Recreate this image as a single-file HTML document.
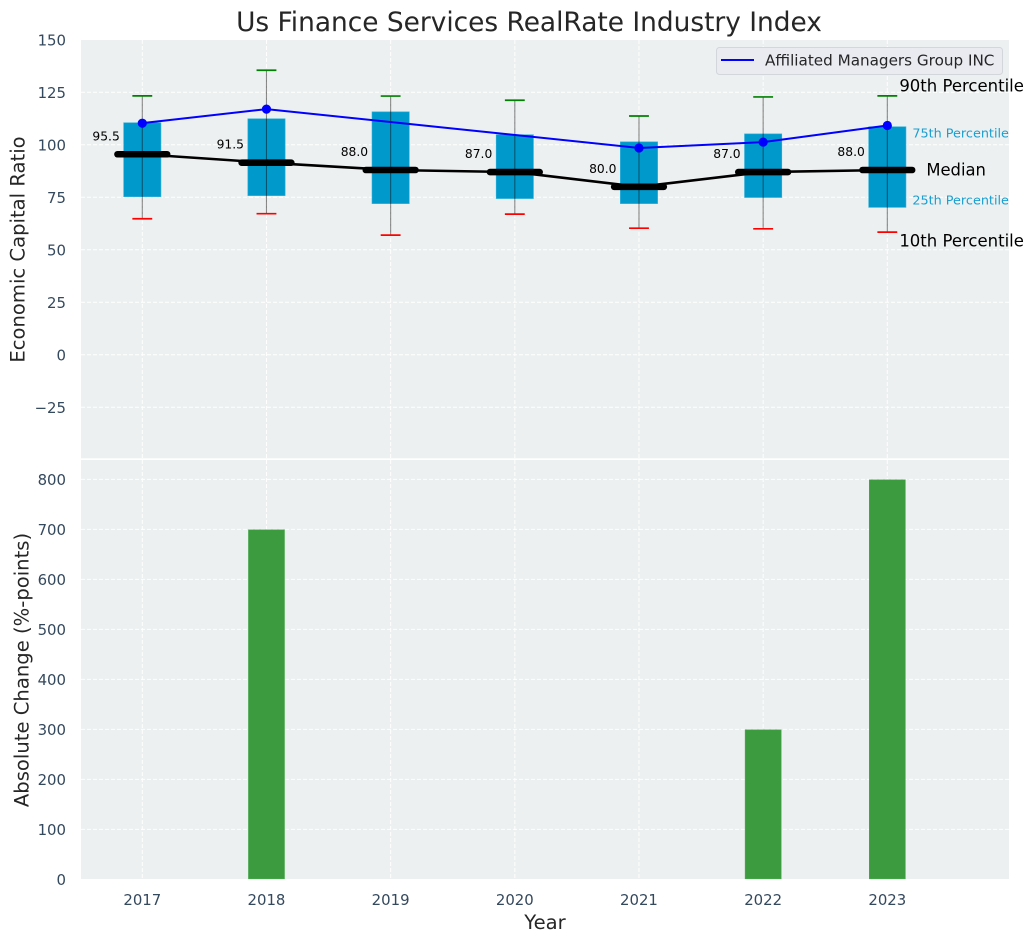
<!DOCTYPE html>
<html>
<head>
<meta charset="utf-8">
<title>Us Finance Services RealRate Industry Index</title>
<style>
html,body{margin:0;padding:0;background:#fff;}
svg{display:block;font-family:"DejaVu Sans","Liberation Sans",sans-serif;}
</style>
</head>
<body>
<svg id="chart" width="1034" height="942" viewBox="0 0 1034 942" xmlns="http://www.w3.org/2000/svg">
  <rect x="81" y="40" width="928" height="418.3" fill="#ecf0f1"/>
  <rect x="81" y="460" width="928" height="419" fill="#ecf0f1"/>
  <g id="grid"></g>
  <g id="marks"></g>
  <g id="ticks"></g>
  <text x="529" y="31" text-anchor="middle" font-size="26.4" fill="#262626">Us Finance Services RealRate Industry Index</text>
  <text transform="translate(24.5,249.5) rotate(-90)" text-anchor="middle" font-size="19.6" fill="#262626">Economic Capital Ratio</text>
  <text transform="translate(28.5,670) rotate(-90)" text-anchor="middle" font-size="19.6" fill="#262626">Absolute Change (%-points)</text>
  <text x="545" y="929" text-anchor="middle" font-size="19.6" fill="#262626">Year</text>
  <g>
    <rect x="716.5" y="47.5" width="286" height="27" rx="3" fill="#e9ebf1" stroke="#d3d6da" stroke-width="1"/>
    <line x1="721" y1="60" x2="754" y2="60" stroke="#0000ff" stroke-width="2"/>
    <text x="765" y="65.5" font-size="15.2" fill="#262626">Affiliated Managers Group INC</text>
  </g>
  <g id="annotations"></g>
</svg>
<script>
var years = [2017, 2018, 2019, 2020, 2021, 2022, 2023];
var p90 = [123.3, 135.5, 123.2, 121.2, 113.7, 122.8, 123.3];
var q3 = [110.5, 112.4, 115.7, 104.8, 101.4, 105.2, 108.6];
var medians = [95.5, 91.5, 88.0, 87.0, 80.0, 87.0, 88.0];
var q1 = [75.3, 75.8, 72.0, 74.4, 72.0, 74.9, 70.2];
var p10 = [64.8, 67.2, 57.0, 67.0, 60.3, 60.0, 58.4];
var company = [110.3, 117.0, null, null, 98.5, 101.3, 109.2];
var changes = [0, 700, 0, 0, 0, 300, 800];
var upperTicks = [150, 125, 100, 75, 50, 25, 0, -25];
var lowerTicks = [800, 700, 600, 500, 400, 300, 200, 100, 0];

var NS = 'http://www.w3.org/2000/svg';
function xPos(v) { return 142.3 + (v - 2017) * 124.17; }
function yUpper(v) { return 354.8 - v * 2.1; }
function yLower(v) { return 879.4 - v * 0.5; }
function xWidth(d) { return d * 124.17; }

function make(tag, parent, attrs, text) {
  var el = document.createElementNS(NS, tag);
  for (var k in attrs) { el.setAttribute(k, attrs[k]); }
  if (text !== undefined) { el.textContent = text; }
  parent.appendChild(el);
  return el;
}

var grid = document.getElementById('grid');
var marks = document.getElementById('marks');
var ticks = document.getElementById('ticks');
var notes = document.getElementById('annotations');
var el;

/* grid */
upperTicks.forEach(function (t) {
  if (t === 150) { return; }
  el = make('line', grid, {x1: 81, x2: 1009, y1: yUpper(t), y2: yUpper(t), stroke: '#ffffff', 'stroke-width': 1, 'stroke-dasharray': '4 2', opacity: 0.95});
  
  
});
lowerTicks.forEach(function (t) {
  if (t === 0) { return; }
  el = make('line', grid, {x1: 81, x2: 1009, y1: yLower(t), y2: yLower(t), stroke: '#ffffff', 'stroke-width': 1, 'stroke-dasharray': '4 2', opacity: 0.95});
  
  
});
years.forEach(function (y) {
  el = make('line', grid, {x1: xPos(y), x2: xPos(y), y1: 40, y2: 458, stroke: '#ffffff', 'stroke-width': 1, 'stroke-dasharray': '4 2', opacity: 0.95});
  
  
  el = make('line', grid, {x1: xPos(y), x2: xPos(y), y1: 460, y2: 879, stroke: '#ffffff', 'stroke-width': 1, 'stroke-dasharray': '4 2', opacity: 0.95});
  
  
});

/* lower bars */
years.forEach(function (y, i) {
  if (!changes[i]) { return; }
  el = make('rect', marks, {x: xPos(y) - xWidth(0.145), y: yLower(changes[i]) + 0.4, width: xWidth(0.29), height: yLower(0) - yLower(changes[i]) - 1, fill: '#3b9b3e', stroke: '#4aa84d', 'stroke-width': 0.6});
  
  
});

/* boxes */
years.forEach(function (y, i) {
  el = make('rect', marks, {x: xPos(y) - xWidth(0.15), y: yUpper(q3[i]), width: xWidth(0.3), height: yUpper(q1[i]) - yUpper(q3[i]), fill: '#0099cc', stroke: '#2fb0da', 'stroke-width': 0.6});
  
  
});

/* whiskers */
years.forEach(function (y, i) {
  el = make('line', marks, {x1: xPos(y), x2: xPos(y), y1: yUpper(p90[i]), y2: yUpper(p10[i]), stroke: '#000000', 'stroke-width': 1.1, opacity: 0.45});
  
  
  el = make('line', marks, {x1: xPos(y) - xWidth(0.08), x2: xPos(y) + xWidth(0.08), y1: yUpper(p90[i]), y2: yUpper(p90[i]), stroke: '#008000', 'stroke-width': 1.7});
  
  
  el = make('line', marks, {x1: xPos(y) - xWidth(0.08), x2: xPos(y) + xWidth(0.08), y1: yUpper(p10[i]), y2: yUpper(p10[i]), stroke: '#ff0000', 'stroke-width': 1.7});
  
  
});

/* median line */
var medianPts = years.map(function (y, i) { return xPos(y) + ',' + yUpper(medians[i]); }).join(' ');
el = make('polyline', marks, {points: medianPts, fill: 'none', stroke: '#000000', 'stroke-width': 2.6});


years.forEach(function (y, i) {
  el = make('line', marks, {x1: xPos(y) - xWidth(0.2), x2: xPos(y) + xWidth(0.2), y1: yUpper(medians[i]), y2: yUpper(medians[i]), stroke: '#000000', 'stroke-width': 6.6, 'stroke-linecap': 'round'});
  
  
  el = make('text', marks, {x: xPos(y) - 22.5, y: yUpper(medians[i]) - 14, 'text-anchor': 'end', 'font-size': 12.3, fill: '#000000'}, medians[i].toFixed(1));
  
  
});

/* company line */
var companyPts = [];
years.forEach(function (y, i) {
  if (company[i] !== null) { companyPts.push(xPos(y) + ',' + yUpper(company[i])); }
});
el = make('polyline', marks, {points: companyPts.join(' '), fill: 'none', stroke: '#0000ff', 'stroke-width': 2});


years.forEach(function (y, i) {
  if (company[i] === null) { return; }
  el = make('circle', marks, {cx: xPos(y), cy: yUpper(company[i]), r: 4.6, fill: '#0000ff'});
  
  
});

/* tick labels */
upperTicks.forEach(function (t) {
  el = make('text', ticks, {x: 66, y: yUpper(t) + 5.5, 'text-anchor': 'end', 'font-size': 14.9, fill: '#34495e'}, t < 0 ? '\u2212' + Math.abs(t) : String(t));
  
  
});
lowerTicks.forEach(function (t) {
  el = make('text', ticks, {x: 66, y: yLower(t) + 5.5, 'text-anchor': 'end', 'font-size': 14.9, fill: '#34495e'}, String(t));
  
  
});
years.forEach(function (y) {
  el = make('text', ticks, {x: xPos(y), y: 905, 'text-anchor': 'middle', 'font-size': 14.9, fill: '#34495e'}, String(y));
  
  
});

/* annotations follow the last year */
var last = years.length - 1;
var lx = xPos(years[last]);
el = make('text', notes, {x: lx + 12, y: yUpper(p90[last]) - 4.5, 'font-size': 16.5, fill: '#000000'}, '90th Percentile');


el = make('text', notes, {x: lx + 25, y: yUpper(q3[last]) + 11, 'font-size': 12.8, fill: '#1a9fd0'}, '75th Percentile');


el = make('text', notes, {x: lx + 39, y: yUpper(medians[last]) + 5.5, 'font-size': 16.4, fill: '#000000'}, 'Median');


el = make('text', notes, {x: lx + 25, y: yUpper(q1[last]) - 3, 'font-size': 12.8, fill: '#1a9fd0'}, '25th Percentile');


el = make('text', notes, {x: lx + 12, y: yUpper(p10[last]) + 14.5, 'font-size': 16.5, fill: '#000000'}, '10th Percentile');


</script>
</body>
</html>
